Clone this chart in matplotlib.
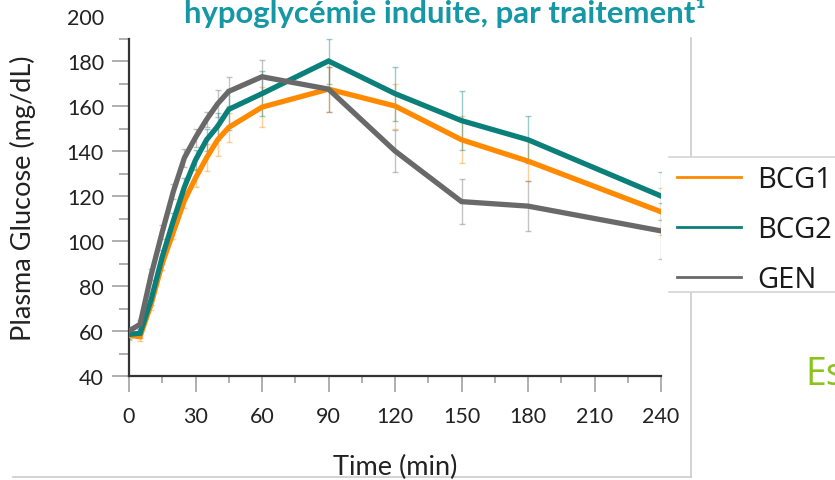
import matplotlib
matplotlib.use("Agg")
import matplotlib.pyplot as plt
from matplotlib.lines import Line2D
from matplotlib.patches import Rectangle
from matplotlib.ticker import FixedLocator

# ---------------- data ----------------
time_min = [0, 5, 10, 15, 20, 25, 30, 35, 40, 45, 60, 90, 120, 150, 180, 240]

bcg1 = [58, 57.5, 72, 90, 104, 118, 128, 137, 145, 150.5, 159.5, 167.5, 160, 145, 135.5, 113]
bcg1_err = [2, 2, 2.5, 3, 3, 3.5, 4, 6, 7, 6.5, 9, 10, 10, 10.5, 9, 10.5]

bcg2 = [58.5, 59, 74, 93, 109, 124, 136, 145, 151, 158.5, 165.5, 180, 165.5, 153.5, 145, 120]
bcg2_err = [2, 2, 2.5, 3, 3.5, 4, 4.5, 5, 6, 9, 10, 10, 12, 13, 10.5, 10.5]

gen = [60, 63, 85, 104, 122, 137, 146, 154, 161, 166.5, 173, 167.5, 140, 117.5, 115.5, 104.5]
gen_err = [2, 2, 2.5, 3, 3.5, 4, 4, 3.5, 6, 6.5, 7.5, 10, 9.5, 10, 11, 12.5]

series_labels = ["BCG1", "BCG2", "GEN"]
series_colors = ["#ff8a00", "#0b7f7a", "#696969"]

y_major = [40, 60, 80, 100, 120, 140, 160, 180, 200]
y_minor = [50, 70, 90, 110, 130, 150, 170, 190]
x_major = [0, 30, 60, 90, 120, 150, 180, 210, 240]
x_minor = [15, 45, 75, 105, 135, 165, 195, 225]

title_text = "hypoglycémie induite, par traitement\u00b9"
xlabel_text = "Time (min)"
ylabel_text = "Plasma Glucose (mg/dL)"
side_text = "Es"

# ---------------- figure ----------------
W, H = 835, 481
fig = plt.figure(figsize=(W / 100, H / 100), dpi=100)
fig.patch.set_facecolor("white")

ax = fig.add_axes([129 / W, 1 - 377 / H, 532 / W, 360 / H])
ax.set_xlim(0, 240)
ax.set_ylim(40, 200)
ax.set_facecolor("none")

series = [(bcg1, bcg1_err), (bcg2, bcg2_err), (gen, gen_err)]
for (vals, err), col in zip(series, series_colors):
    ax.errorbar(time_min, vals, yerr=err, fmt="none", ecolor=col, alpha=0.4,
                elinewidth=1.0, capsize=2.5, capthick=1.0, zorder=2)
for (vals, err), col, lab in zip(series, series_colors, series_labels):
    ax.plot(time_min, vals, color=col, lw=3.8, label=lab, zorder=3,
            solid_joinstyle="miter")

# spines
for s in ["top", "right"]:
    ax.spines[s].set_visible(False)
for s in ["left", "bottom"]:
    ax.spines[s].set_color("#333333")
    ax.spines[s].set_linewidth(1.6)
ax.spines["left"].set_bounds(40, 190)

# ticks
ax.yaxis.set_major_locator(FixedLocator(y_major))
ax.yaxis.set_minor_locator(FixedLocator(y_minor))
ax.xaxis.set_major_locator(FixedLocator(x_major))
ax.xaxis.set_minor_locator(FixedLocator(x_minor))
ax.set_yticklabels([str(v) for v in y_major])
ax.set_xticklabels([str(v) for v in x_major])

tick_family = ["Lato", "DejaVu Sans"]
ax.tick_params(axis="y", which="major", length=12, width=1.1, color="#9a9a9a",
               pad=6, labelcolor="#222222")
ax.tick_params(axis="y", which="minor", length=7, width=1.1, color="#9a9a9a")
ax.tick_params(axis="x", which="major", length=11.5, width=1.1, color="#9a9a9a",
               pad=10, labelcolor="#222222")
ax.tick_params(axis="x", which="minor", length=5, width=1.1, color="#9a9a9a")
for lbl in ax.get_xticklabels() + ax.get_yticklabels():
    lbl.set_fontfamily(tick_family)
    lbl.set_fontsize(15.5)
ax.yaxis.get_major_ticks()[-1].tick1line.set_visible(False)

# axis labels
fig.text(23 / W, 1 - 198 / H, ylabel_text, rotation=90, ha="center", va="center",
         fontsize=19.5, color="#222222", family=["Lato", "DejaVu Sans"])
fig.text(395 / W, 1 - 475 / H, xlabel_text, ha="center", va="baseline",
         fontsize=19.5, color="#222222", family=["Lato", "DejaVu Sans"])

# title (partially cut at the top of the slide crop)
fig.text(184 / W, 1 - 23 / H, title_text, ha="left", va="baseline",
         fontsize=22.4, fontweight="bold", color="#1597a5",
         family=["Lato", "DejaVu Sans"])

# slide frame lines
fig.add_artist(Line2D([13 / W, 691 / W], [1 - 478 / H, 1 - 478 / H],
                      color="#cccccc", lw=1.2, zorder=1))
fig.add_artist(Line2D([691 / W, 691 / W], [1 - 39 / H, 1 - 478 / H],
                      color="#cccccc", lw=1.2, zorder=1))

# legend box
fig.add_artist(Rectangle((669 / W, 1 - 293 / H), 1 - 669 / W, (293 - 158) / H,
                         transform=fig.transFigure, facecolor="white",
                         edgecolor="none", zorder=5))
for yy in [158, 293]:
    fig.add_artist(Line2D([669 / W, 1], [1 - yy / H, 1 - yy / H],
                          color="#d4d4d4", lw=1.2, zorder=6))

handles = [Line2D([], [], color=c, lw=2.0) for c in series_colors]
leg = fig.legend(handles, series_labels, loc="upper left",
                 bbox_to_anchor=(677 / W, 1 - 166 / H), frameon=False,
                 prop={"family": ["Open Sans", "DejaVu Sans"], "size": 21},
                 handlelength=2.2, handletextpad=0.55, labelspacing=0.72,
                 borderpad=0, borderaxespad=0)
leg.set_zorder(7)
for t in leg.get_texts():
    t.set_color("#1a1a1a")

# cut-off green text at the right
fig.text(805 / W, 1 - 385 / H, side_text, ha="left", va="baseline",
         fontsize=27, color="#8cc21e", family=["Open Sans", "DejaVu Sans"])

fig.savefig("out.png", dpi=100)
